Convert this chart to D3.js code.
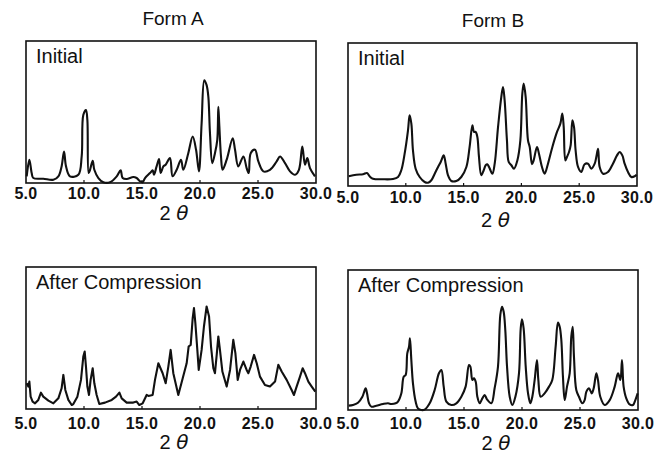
<!DOCTYPE html>
<html>
<head>
<meta charset="utf-8">
<script src="https://cdn.jsdelivr.net/npm/d3@7"></script>
<style>
  body { margin: 0; background: #fff; }
  svg { display: block; font-family: "Liberation Sans", Arial, sans-serif; }
</style>
</head>
<body>
<script>
// x-ray powder patterns, [2theta, relative intensity 0-100]
const formAInitial = [
  [5.06, 4.7], [5.29, 16.4], [5.49, 7.0], [5.63, 3.5], [6.49, 3.0], [7.36, 2.3], [7.79, 4.7],
  [8.07, 11.7], [8.28, 22.2], [8.45, 11.7], [8.79, 4.7], [9.51, 5.8], [9.80, 18.7], [9.94, 47.9],
  [10.17, 51.4], [10.29, 44.4], [10.40, 7.0], [10.52, 9.3], [10.75, 15.7], [10.89, 9.3], [11.24, 3.5],
  [11.67, 0.5], [12.24, 0.5], [12.82, 4.7], [13.16, 8.9], [13.33, 3.5], [13.68, 2.8], [14.25, 4.2],
  [14.54, 3.5], [14.83, 1.2], [15.06, 0.5], [15.26, 3.5], [15.69, 7.0], [15.92, 8.9], [16.03, 5.8],
  [16.26, 11.7], [16.47, 16.8], [16.61, 7.0], [16.84, 11.7], [17.04, 12.9], [17.41, 17.5], [17.64, 4.7],
  [17.99, 9.3], [18.36, 16.4], [18.56, 9.3], [18.99, 21.0], [19.37, 32.7], [19.66, 23.4], [19.91, 8.2],
  [20.14, 42.1], [20.37, 72.4], [20.57, 68.9], [20.72, 60.7], [20.86, 35.0], [21.06, 14.0], [21.29, 21.0],
  [21.49, 30.4], [21.58, 53.7], [21.67, 39.7], [21.81, 18.7], [21.95, 9.3], [22.30, 16.4], [22.82, 31.5],
  [23.02, 23.4], [23.30, 11.7], [23.74, 18.7], [24.02, 10.5], [24.20, 7.0], [24.37, 21.0], [24.74, 23.4],
  [25.03, 15.2], [25.46, 8.2], [26.03, 9.3], [26.61, 15.2], [26.90, 18.7], [27.33, 14.0], [27.76, 8.2],
  [28.19, 5.8], [28.53, 9.3], [28.82, 25.7], [29.05, 12.9], [29.25, 17.5], [29.48, 10.5], [29.91, 4.7]
];

const formBInitial = [
  [5.06, 6.8], [5.72, 7.9], [6.30, 8.2], [6.64, 9.1], [6.87, 6.8], [7.16, 5.1], [8.03, 4.7], [8.89, 4.9],
  [9.33, 6.3], [9.61, 11.0], [9.90, 22.6], [10.19, 38.9], [10.33, 49.4], [10.48, 43.6], [10.62, 24.9],
  [10.85, 12.1], [11.20, 6.3], [11.63, 2.8], [11.92, 2.3], [12.21, 4.0], [12.50, 8.6], [12.79, 13.3],
  [13.02, 16.8], [13.28, 21.4], [13.45, 15.6], [13.65, 7.5], [13.94, 3.5], [14.37, 3.5], [14.80, 6.3],
  [15.24, 13.3], [15.52, 27.3], [15.76, 42.4], [15.90, 37.8], [16.04, 37.8], [16.19, 34.3], [16.33, 20.3],
  [16.53, 7.5], [16.74, 11.0], [16.91, 14.5], [17.05, 15.2], [17.20, 13.3], [17.49, 8.6], [17.69, 15.6],
  [17.98, 41.3], [18.26, 62.2], [18.41, 69.2], [18.55, 59.9], [18.75, 31.9], [18.90, 16.8], [19.13, 14.5],
  [19.36, 12.1], [19.65, 17.9], [19.91, 31.9], [20.08, 64.6], [20.20, 71.6], [20.37, 62.2], [20.57, 31.9],
  [20.72, 27.3], [20.92, 15.2], [21.06, 17.9], [21.35, 27.3], [21.52, 22.6], [21.78, 13.3], [22.01, 8.6],
  [22.30, 15.6], [22.68, 27.3], [23.08, 37.8], [23.37, 43.6], [23.54, 50.6], [23.66, 41.3], [23.80, 17.9],
  [23.94, 20.3], [24.12, 23.8], [24.26, 28.4], [24.41, 45.9], [24.55, 41.3], [24.69, 24.9], [24.90, 13.3],
  [25.18, 9.8], [25.47, 15.2], [25.76, 15.6], [26.05, 12.1], [26.34, 15.6], [26.48, 20.3], [26.63, 26.1],
  [26.77, 13.3], [27.06, 8.6], [27.49, 9.8], [27.92, 15.6], [28.27, 21.4], [28.50, 23.8], [28.73, 21.4],
  [28.93, 15.6], [29.22, 9.8], [29.51, 6.3], [29.80, 6.8], [29.97, 7.9]
];

const formACompressed = [
  [5.06, 18.1], [5.20, 15.8], [5.29, 19.3], [5.40, 8.7], [5.57, 5.2], [5.78, 4.0], [6.06, 6.4], [6.29, 11.5],
  [6.49, 8.7], [6.93, 5.9], [7.36, 4.0], [7.79, 7.5], [8.07, 14.6], [8.22, 24.0], [8.39, 13.4], [8.65, 6.4],
  [8.94, 2.8], [9.08, 3.5], [9.43, 8.7], [9.74, 20.5], [9.94, 36.9], [10.06, 40.5], [10.17, 29.9],
  [10.29, 15.8], [10.43, 9.9], [10.57, 20.5], [10.75, 28.7], [10.89, 18.1], [11.09, 9.9], [11.32, 3.5],
  [11.81, 4.5], [12.39, 6.4], [12.76, 8.7], [13.05, 11.5], [13.25, 7.5], [13.68, 4.5], [14.25, 4.5],
  [14.54, 5.2], [14.77, 2.8], [15.06, 4.0], [15.40, 9.9], [15.55, 9.2], [15.92, 9.9], [16.12, 20.5],
  [16.41, 32.2], [16.78, 25.2], [17.04, 18.1], [17.27, 29.9], [17.47, 41.6], [17.70, 25.2], [18.13, 9.9],
  [18.51, 21.6], [18.85, 32.2], [19.02, 44.0], [19.20, 45.2], [19.37, 64.0], [19.48, 71.1], [19.60, 60.5],
  [19.77, 41.6], [19.89, 27.5], [20.14, 41.6], [20.34, 58.1], [20.57, 72.2], [20.78, 65.2], [20.95, 44.0],
  [21.15, 28.7], [21.29, 25.2], [21.44, 38.1], [21.58, 51.1], [21.72, 41.6], [21.93, 26.4], [22.30, 15.8],
  [22.59, 27.5], [22.87, 48.7], [23.05, 39.3], [23.25, 20.5], [23.45, 27.5], [23.74, 33.4], [24.02, 27.5],
  [24.17, 25.2], [24.37, 29.9], [24.66, 38.1], [24.89, 32.2], [25.17, 22.8], [25.60, 16.9], [26.03, 15.8],
  [26.47, 19.3], [26.75, 31.1], [27.04, 26.4], [27.47, 20.5], [27.90, 13.4], [28.10, 9.9], [28.33, 15.8],
  [28.62, 22.8], [28.85, 28.7], [29.05, 25.2], [29.34, 19.3], [29.63, 15.8], [29.94, 12.2]
];

const formBCompressed = [
  [5.06, 3.1], [5.43, 3.6], [5.86, 5.2], [6.24, 9.5], [6.52, 15.5], [6.64, 11.9], [6.81, 4.8], [7.01, 2.4],
  [7.44, 3.1], [8.02, 4.3], [8.45, 4.8], [8.74, 4.3], [9.11, 4.8], [9.31, 6.0], [9.60, 11.9], [9.80, 23.8],
  [9.97, 25.0], [10.11, 40.5], [10.26, 45.2], [10.34, 51.2], [10.46, 35.7], [10.60, 19.0], [10.83, 6.0],
  [11.03, 1.2], [11.32, 0], [11.61, 0.3], [12.04, 4.8], [12.47, 14.3], [12.84, 26.2], [13.05, 28.6],
  [13.25, 16.7], [13.48, 6.0], [13.91, 3.6], [14.34, 4.8], [14.77, 9.5], [15.14, 16.7], [15.43, 32.1],
  [15.55, 31.0], [15.72, 21.4], [15.86, 22.6], [16.01, 20.2], [16.15, 9.5], [16.35, 4.8], [16.58, 8.3],
  [16.78, 10.7], [16.98, 7.6], [17.36, 4.8], [17.64, 15.5], [17.93, 31.0], [18.13, 67.9], [18.28, 73.8],
  [18.42, 70.2], [18.56, 57.1], [18.71, 31.0], [18.94, 9.5], [19.17, 3.6], [19.43, 9.5], [19.74, 26.2],
  [19.89, 58.3], [20.00, 64.8], [20.14, 58.3], [20.32, 31.0], [20.52, 11.9], [20.72, 4.8], [20.89, 9.5],
  [21.09, 21.4], [21.29, 35.7], [21.41, 21.4], [21.61, 9.5], [21.95, 11.9], [22.33, 16.7], [22.61, 21.4],
  [22.90, 45.2], [23.10, 62.4], [23.25, 59.5], [23.39, 50.0], [23.53, 23.8], [23.68, 7.1], [23.88, 16.7],
  [24.11, 26.2], [24.25, 52.4], [24.37, 59.5], [24.48, 38.1], [24.68, 14.3], [24.91, 9.5], [25.20, 4.8],
  [25.40, 7.1], [25.55, 13.1], [25.78, 15.5], [26.01, 11.9], [26.18, 15.5], [26.41, 26.2], [26.55, 21.4],
  [26.75, 9.5], [27.13, 3.6], [27.56, 7.1], [27.99, 16.7], [28.28, 26.2], [28.48, 21.4], [28.62, 35.7],
  [28.76, 16.7], [28.99, 8.3], [29.28, 4.0], [29.57, 3.6], [29.77, 7.1], [29.97, 11.9]
];

const tickValues = [5, 10, 15, 20, 25, 30];
const formTitles = ["Form A", "Form B"];
const panelLabels = ["Initial", "After Compression"];

const width = 669, height = 456;

// form A traces are more angular in the scan, form B smoother
const panels = [
  {data: formAInitial,    label: panelLabels[0], curve: d3.curveCatmullRom.alpha(0.5), x0: 26,  x1: 316, y0: 41,  y1: 183, tickY: 199, thetaY: 220},
  {data: formBInitial,    label: panelLabels[0], curve: d3.curveCatmullRom.alpha(0.5), x0: 348, x1: 637, y0: 43,  y1: 186, tickY: 203, thetaY: 227},
  {data: formACompressed, label: panelLabels[1], curve: d3.curveLinear,               x0: 26,  x1: 316, y0: 267, y1: 409, tickY: 429, thetaY: 449},
  {data: formBCompressed, label: panelLabels[1], curve: d3.curveCatmullRom.alpha(0.5), x0: 348, x1: 638, y0: 270, y1: 410, tickY: 429, thetaY: 450}
];

const svg = d3.select("body").append("svg")
  .attr("width", width)
  .attr("height", height);

// column titles
svg.selectAll("text.form")
  .data(formTitles)
  .join("text")
  .attr("class", "form")
  .attr("x", (d, i) => i === 0 ? 173 : 493)
  .attr("y", (d, i) => i === 0 ? 25 : 27)
  .attr("text-anchor", "middle")
  .attr("font-size", 19)
  .attr("fill", "#111")
  .text(d => d);

panels.forEach(p => {
  const x = d3.scaleLinear().domain([5, 30]).range([p.x0, p.x1]);
  const y = d3.scaleLinear().domain([0, 100]).range([p.y1, p.y0]);
  const g = svg.append("g");

  const line = d3.line()
    .x(d => x(d[0]))
    .y(d => y(d[1]))
    .curve(p.curve);

  g.append("path")
    .datum(p.data)
    .attr("fill", "none")
    .attr("stroke", "#111")
    .attr("stroke-width", 2.1)
    .attr("stroke-linejoin", "round")
    .attr("d", line);

  g.append("rect")
    .attr("x", p.x0)
    .attr("y", p.y0)
    .attr("width", p.x1 - p.x0)
    .attr("height", p.y1 - p.y0)
    .attr("fill", "none")
    .attr("stroke", "#111")
    .attr("stroke-width", 1.6);

  // small inward ticks
  g.selectAll("line.tick")
    .data(tickValues.slice(1, -1))
    .join("line")
    .attr("x1", d => x(d)).attr("x2", d => x(d))
    .attr("y1", p.y1).attr("y2", p.y1 - 3)
    .attr("stroke", "#111")
    .attr("stroke-width", 1.2);

  g.selectAll("text.tl")
    .data(tickValues)
    .join("text")
    .attr("class", "tl")
    .attr("x", d => x(d))
    .attr("y", p.tickY)
    .attr("text-anchor", "middle")
    .attr("font-size", 16)
    .attr("font-weight", "bold")
    .attr("letter-spacing", 0.3)
    .attr("fill", "#111")
    .text(d => d.toFixed(1));

  g.append("text")
    .attr("x", p.x0 + 10)
    .attr("y", p.y0 + 22)
    .attr("font-size", 20)
    .attr("fill", "#111")
    .text(p.label);

  const t = g.append("text")
    .attr("x", (p.x0 + p.x1) / 2 + 3)
    .attr("y", p.thetaY)
    .attr("text-anchor", "middle")
    .attr("font-size", 20)
    .attr("fill", "#111");
  t.append("tspan").text("2 ");
  t.append("tspan").attr("font-style", "italic").attr("font-family", "DejaVu Sans, sans-serif").text("θ");
});
</script>
</body>
</html>
